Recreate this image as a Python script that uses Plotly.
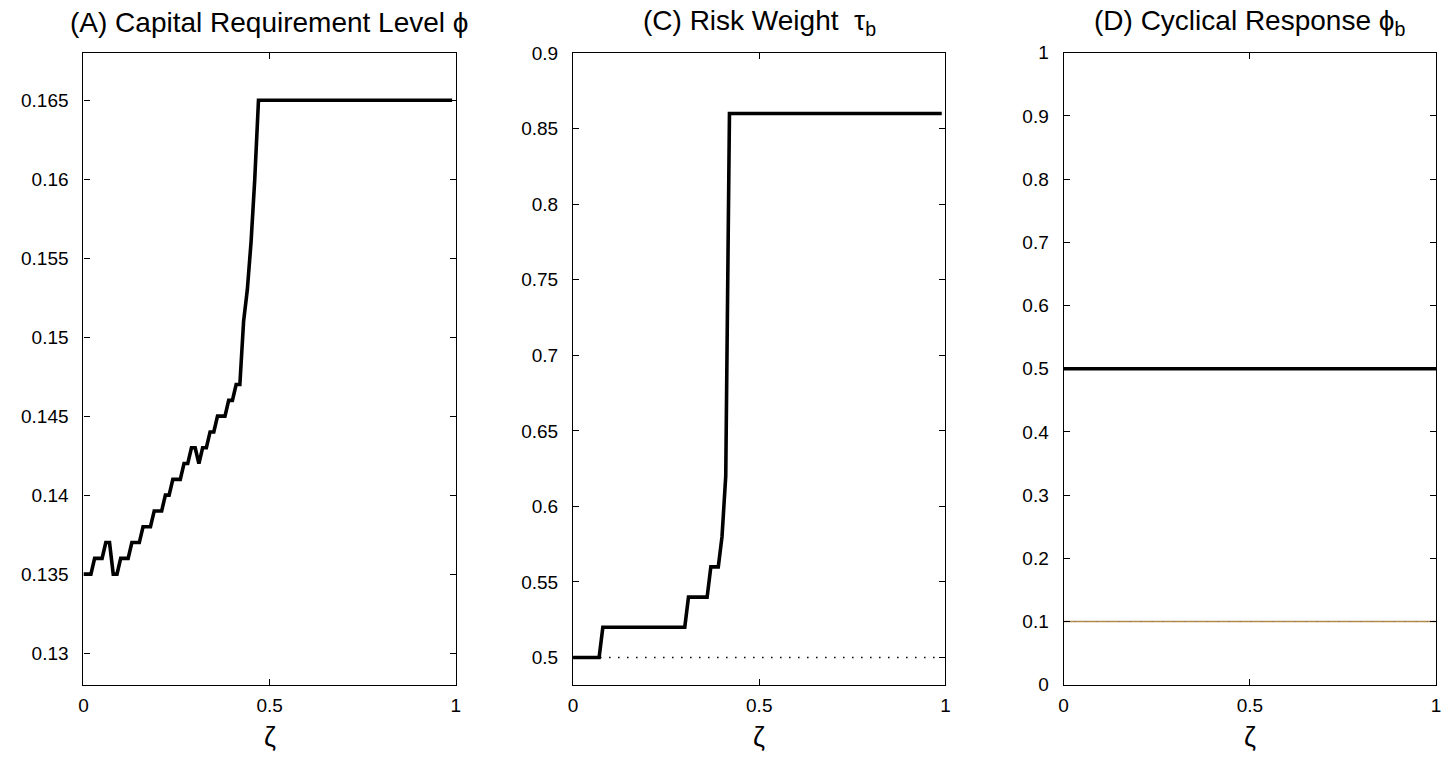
import plotly.graph_objects as go

# ---------------- data ----------------
zeta_A = [0.00, 0.01, 0.02, 0.03, 0.04, 0.05, 0.06, 0.07, 0.08, 0.09,
          0.10, 0.11, 0.12, 0.13, 0.14, 0.15, 0.16, 0.17, 0.18, 0.19,
          0.20, 0.21, 0.22, 0.23, 0.24, 0.25, 0.26, 0.27, 0.28, 0.29,
          0.30, 0.31, 0.32, 0.33, 0.34, 0.35, 0.36, 0.37, 0.38, 0.39,
          0.40, 0.41, 0.42, 0.43, 0.44, 0.45, 0.46, 0.47, 0.99]
phi_A = [0.135, 0.135, 0.135, 0.136, 0.136, 0.136, 0.137, 0.137, 0.135, 0.135,
         0.136, 0.136, 0.136, 0.137, 0.137, 0.137, 0.138, 0.138, 0.138, 0.139,
         0.139, 0.139, 0.140, 0.140, 0.141, 0.141, 0.141, 0.142, 0.142, 0.143,
         0.143, 0.142, 0.143, 0.143, 0.144, 0.144, 0.145, 0.145, 0.145, 0.146,
         0.146, 0.147, 0.147, 0.151, 0.153, 0.156, 0.160, 0.165, 0.165]

zeta_C = [0.00, 0.07, 0.08, 0.30, 0.31, 0.36, 0.37, 0.39, 0.40, 0.41, 0.42, 0.99]
tau_C = [0.50, 0.50, 0.52, 0.52, 0.54, 0.54, 0.56, 0.56, 0.58, 0.62, 0.86, 0.86]
zeta_C_base = [0.00, 0.99]
tau_C_base = [0.50, 0.50]

zeta_D = [0.0, 1.0]
phib_D = [0.5, 0.5]
phib_D_base = [0.1, 0.1]

xticks = [0, 0.5, 1]
xtick_text = ["0", "0.5", "1"]
yticks_A = [0.13, 0.135, 0.14, 0.145, 0.15, 0.155, 0.16, 0.165]
ytext_A = ["0.13", "0.135", "0.14", "0.145", "0.15", "0.155", "0.16", "0.165"]
yticks_C = [0.5, 0.55, 0.6, 0.65, 0.7, 0.75, 0.8, 0.85, 0.9]
ytext_C = ["0.5", "0.55", "0.6", "0.65", "0.7", "0.75", "0.8", "0.85", "0.9"]
yticks_D = [0, 0.1, 0.2, 0.3, 0.4, 0.5, 0.6, 0.7, 0.8, 0.9, 1]
ytext_D = ["0", "0.1", "0.2", "0.3", "0.4", "0.5", "0.6", "0.7", "0.8", "0.9", "1"]

titles = ["(A) Capital Requirement Level ϕ",
          "(C) Risk Weight \u00a0τ<sub>b</sub>",
          "(D) Cyclical Response ϕ<sub>b</sub>"]
xlabel = "ζ"

# ---------------- layout ----------------
W, H = 1448, 757
FONT = "Liberation Sans, Arial, Helvetica, sans-serif"
px_x = [(79, 454), (572, 947), (1066, 1441)]
top_px, bot_px = 44, 694
ydom = [(H - bot_px) / H, (H - top_px) / H]

fig = go.Figure()

lw = 3.6
fig.add_trace(go.Scatter(x=zeta_A, y=phi_A, mode="lines",
                         line=dict(color="black", width=lw), xaxis="x", yaxis="y"))
fig.add_trace(go.Scatter(x=zeta_C_base, y=tau_C_base, mode="lines",
                         line=dict(color="black", width=1.5, dash="1.5px,7.5px"),
                         xaxis="x2", yaxis="y2"))
fig.add_trace(go.Scatter(x=zeta_C, y=tau_C, mode="lines",
                         line=dict(color="black", width=lw), xaxis="x2", yaxis="y2"))
fig.add_trace(go.Scatter(x=zeta_D, y=phib_D_base, mode="lines",
                         line=dict(color="#b08c48", width=1.6), xaxis="x3", yaxis="y3"))
fig.add_trace(go.Scatter(x=zeta_D, y=phib_D_base, mode="lines",
                         line=dict(color="#806878", width=1, dash="1px,10px"),
                         xaxis="x3", yaxis="y3"))
fig.add_trace(go.Scatter(x=zeta_D, y=phib_D, mode="lines",
                         line=dict(color="black", width=lw), xaxis="x3", yaxis="y3"))

axcommon = dict(showline=True, linecolor="black", linewidth=1.2, mirror="ticks",
                ticks="inside", ticklen=6, tickwidth=1, tickcolor="black",
                showgrid=False, zeroline=False,
                tickfont=dict(family=FONT, size=19, color="black"))

yranges = [[0.128, 0.168], [0.482, 0.9002], [0, 1]]
yts = [(yticks_A, ytext_A), (yticks_C, ytext_C), (yticks_D, ytext_D)]
layout = {}
for i in range(3):
    sx = "" if i == 0 else str(i + 1)
    x0, x1 = px_x[i]
    layout["xaxis" + sx] = dict(axcommon, domain=[x0 / W, x1 / W], range=[0, 1],
                                tickvals=xticks, ticktext=xtick_text,
                                anchor="y" + sx, ticklabelstandoff=3)
    layout["yaxis" + sx] = dict(axcommon, domain=ydom, range=yranges[i],
                                tickvals=yts[i][0], ticktext=yts[i][1],
                                anchor="x" + sx, ticklabelstandoff=10)

annotations = []
for i in range(3):
    x0, x1 = px_x[i]
    xc = (x0 + x1) / 2 / W
    annotations.append(dict(text=titles[i], x=xc, y=1 - 13 / H, xref="paper", yref="paper",
                            xanchor="center", yanchor="middle", showarrow=False,
                            font=dict(family=FONT, size=28, color="black")))
    annotations.append(dict(text=xlabel, x=xc, y=9 / H, xref="paper", yref="paper",
                            xanchor="center", yanchor="middle", showarrow=False,
                            font=dict(family=FONT, size=27, color="black")))

fig.update_layout(**layout)
fig.update_layout(width=W, height=H, margin=dict(l=0, r=0, t=0, b=0),
                  paper_bgcolor="white", plot_bgcolor="white", showlegend=False,
                  annotations=annotations,
                  font=dict(family=FONT, color="black"))

fig.write_html("out.html", config={"displayModeBar": False},
               post_script="document.body.style.margin='0';document.body.style.padding='0';document.body.style.overflow='hidden';")
